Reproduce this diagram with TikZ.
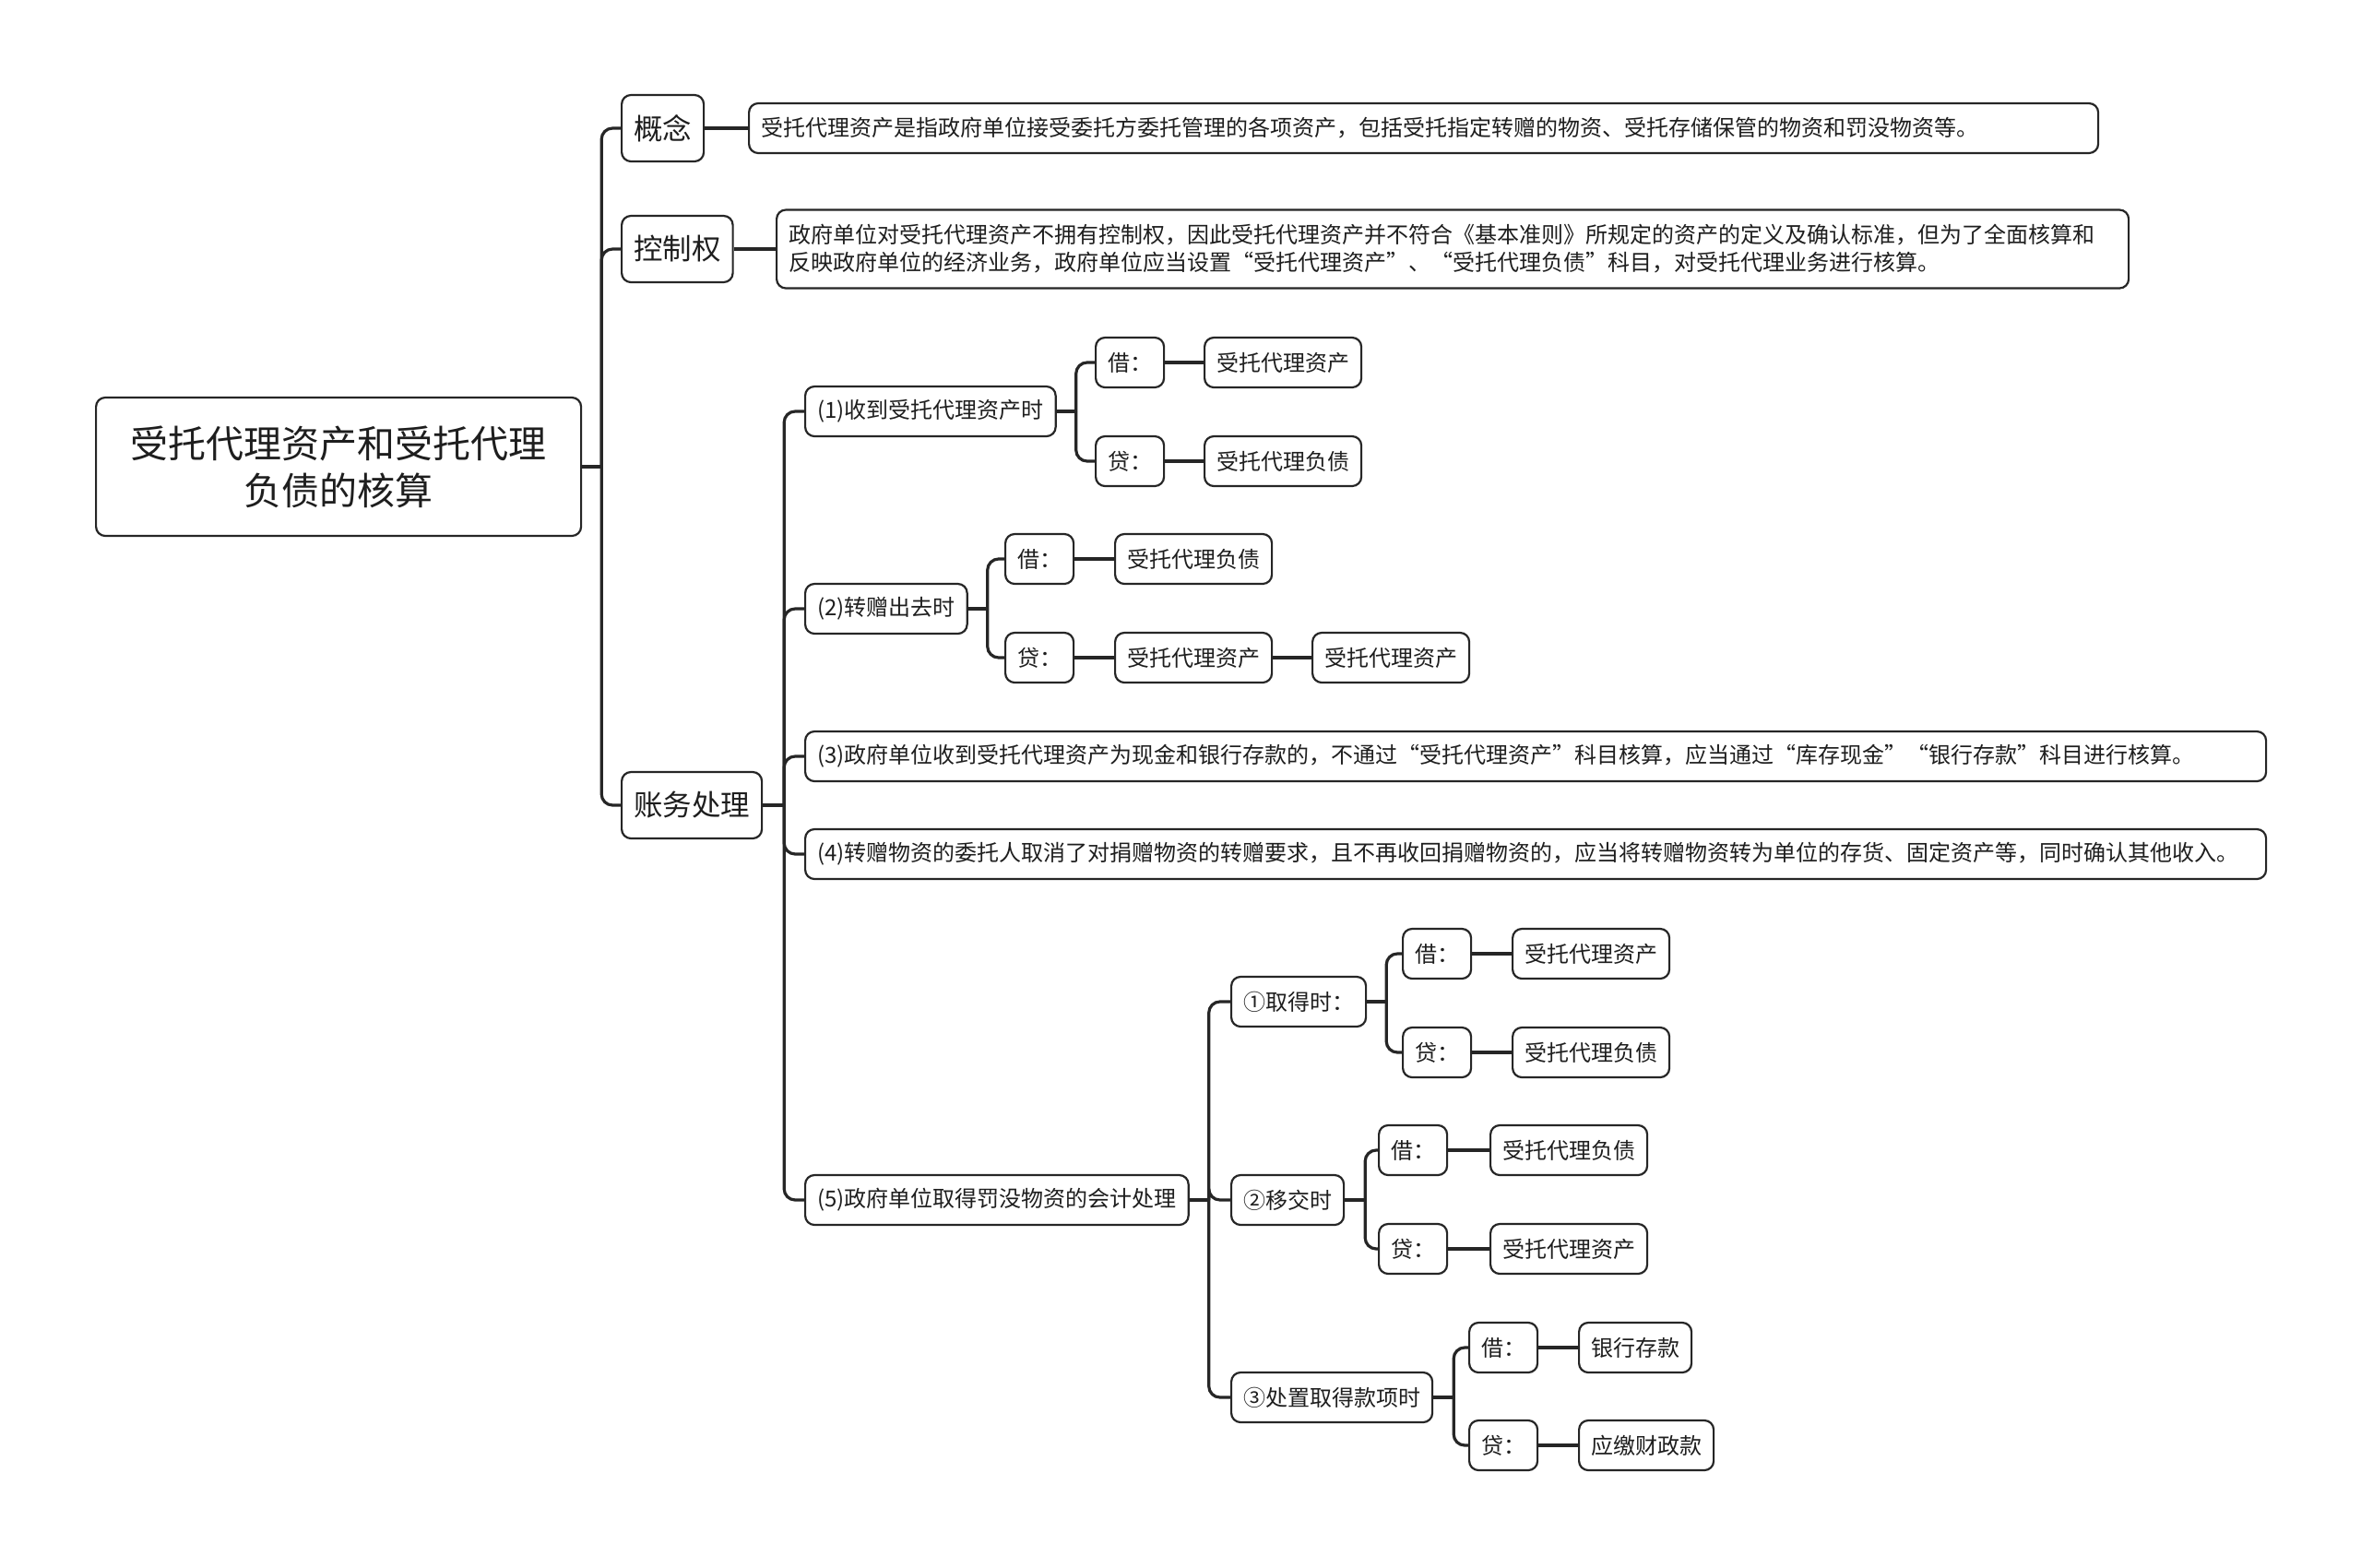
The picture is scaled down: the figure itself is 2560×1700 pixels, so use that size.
\documentclass[tikz,border=0pt]{standalone}
\usepackage{fontspec}
\setmainfont{Noto Sans CJK SC}
\definecolor{linec}{HTML}{262626}
\definecolor{textc}{HTML}{1E1E1E}
\begin{document}
\begin{tikzpicture}[x=1pt,y=-1pt,
  box/.style={draw=linec, line width=2.2pt, rounded corners=10pt, fill=white, text=textc,
    inner xsep=13pt, inner ysep=0pt, minimum height=54pt, anchor=west,
    font=\fontsize{24}{30}\selectfont},
  lone/.style={box, minimum height=72pt, font=\fontsize{31.5}{38}\selectfont},
  conn/.style={draw=linec, line width=3.2pt, rounded corners=12pt},
  link/.style={draw=linec, line width=3.2pt}]
\useasboundingbox (0,0) rectangle (2560,1700);
\fill[white] (0,0) rectangle (2560,1700);

% root
\node[box, minimum width=526pt, minimum height=150pt, align=center,
  font=\fontsize{41}{51}\selectfont] (root) at (103,506) {受托代理资产和受托代理\\负债的核算};

% level 1
\node[lone] (gn) at (673,139) {概念};
\node[lone] (kz) at (673,270) {控制权};
\node[lone] (zw) at (673,873) {账务处理};

\node[box, text width=1437pt, align=left] (gnT) at (811,139) {受托代理资产是指政府单位接受委托方委托管理的各项资产，包括受托指定转赠的物资、受托存储保管的物资和罚没物资等。};
\node[box, text width=1440pt, align=left, minimum height=85pt] (kzT) at (841,270) {政府单位对受托代理资产不拥有控制权，因此受托代理资产并不符合《基本准则》所规定的资产的定义及确认标准，但为了全面核算和\\反映政府单位的经济业务，政府单位应当设置“受托代理资产”、“受托代理负债”科目，对受托代理业务进行核算。};

% level 2 under 账务处理
\node[box] (z1) at (872,446) {(1)收到受托代理资产时};
\node[box] (z2) at (872,660) {(2)转赠出去时};
\node[box, text width=1558pt, align=left] (z3) at (872,820) {(3)政府单位收到受托代理资产为现金和银行存款的，不通过“受托代理资产”科目核算，应当通过“库存现金”“银行存款”科目进行核算。};
\node[box, text width=1558pt, align=left] (z4) at (872,926) {(4)转赠物资的委托人取消了对捐赠物资的转赠要求，且不再收回捐赠物资的，应当将转赠物资转为单位的存货、固定资产等，同时确认其他收入。};
\node[box] (z5) at (872,1301) {(5)政府单位取得罚没物资的会计处理};

% (1)
\node[box] (z1j) at (1187,393) {借：};
\node[box] (z1jv) at (1305,393) {受托代理资产};
\node[box] (z1d) at (1187,500) {贷：};
\node[box] (z1dv) at (1305,500) {受托代理负债};

% (2)
\node[box] (z2j) at (1089,606) {借：};
\node[box] (z2jv) at (1208,606) {受托代理负债};
\node[box] (z2d) at (1089,713) {贷：};
\node[box] (z2dv) at (1208,713) {受托代理资产};
\node[box] (z2dw) at (1422,713) {受托代理资产};

% (5)
\node[box] (c1) at (1334,1086) {①取得时：};
\node[box] (c2) at (1334,1301) {②移交时};
\node[box] (c3) at (1334,1515) {③处置取得款项时};

\node[box] (c1j) at (1520,1034) {借：};
\node[box] (c1jv) at (1639,1034) {受托代理资产};
\node[box] (c1d) at (1520,1141) {贷：};
\node[box] (c1dv) at (1639,1141) {受托代理负债};

\node[box] (c2j) at (1494,1247) {借：};
\node[box] (c2jv) at (1615,1247) {受托代理负债};
\node[box] (c2d) at (1494,1354) {贷：};
\node[box] (c2dv) at (1615,1354) {受托代理资产};

\node[box] (c3j) at (1592,1461) {借：};
\node[box] (c3jv) at (1711,1461) {银行存款};
\node[box] (c3d) at (1592,1567) {贷：};
\node[box] (c3dv) at (1711,1567) {应缴财政款};

% junction coordinates
\path (root.east) ++(21,0) coordinate (jroot);
\path (zw.east) ++(23,0) coordinate (jzw);
\path (z1.east) ++(21,0) coordinate (jz1);
\path (z2.east) ++(21,0) coordinate (jz2);
\path (z5.east) ++(21,0) coordinate (jz5);
\path (c1.east) ++(21,0) coordinate (jc1);
\path (c2.east) ++(22,0) coordinate (jc2);
\path (c3.east) ++(22,0) coordinate (jc3);

\begin{scope}[on background layer/.style={}]
% root
\draw[link] (root.east) -- (jroot);
\foreach \c in {gn,kz,zw} \draw[conn] (jroot) |- (\c.west);
\draw[link] (gn.east) -- (gnT.west);
\draw[link] (kz.east) -- (kzT.west);
% 账务处理
\draw[link] (zw.east) -- (jzw);
\foreach \c in {z1,z2,z3,z4,z5} \draw[conn] (jzw) |- (\c.west);
% (1)
\draw[link] (z1.east) -- (jz1);
\foreach \c in {z1j,z1d} \draw[conn] (jz1) |- (\c.west);
\draw[link] (z1j.east) -- (z1jv.west);
\draw[link] (z1d.east) -- (z1dv.west);
% (2)
\draw[link] (z2.east) -- (jz2);
\foreach \c in {z2j,z2d} \draw[conn] (jz2) |- (\c.west);
\draw[link] (z2j.east) -- (z2jv.west);
\draw[link] (z2d.east) -- (z2dv.west);
\draw[link] (z2dv.east) -- (z2dw.west);
% (5)
\draw[link] (z5.east) -- (jz5);
\foreach \c in {c1,c2,c3} \draw[conn] (jz5) |- (\c.west);
\draw[link] (c1.east) -- (jc1);
\foreach \c in {c1j,c1d} \draw[conn] (jc1) |- (\c.west);
\draw[link] (c1j.east) -- (c1jv.west);
\draw[link] (c1d.east) -- (c1dv.west);
\draw[link] (c2.east) -- (jc2);
\foreach \c in {c2j,c2d} \draw[conn] (jc2) |- (\c.west);
\draw[link] (c2j.east) -- (c2jv.west);
\draw[link] (c2d.east) -- (c2dv.west);
\draw[link] (c3.east) -- (jc3);
\foreach \c in {c3j,c3d} \draw[conn] (jc3) |- (\c.west);
\draw[link] (c3j.east) -- (c3jv.west);
\draw[link] (c3d.east) -- (c3dv.west);
\end{scope}
\end{tikzpicture}
\end{document}
